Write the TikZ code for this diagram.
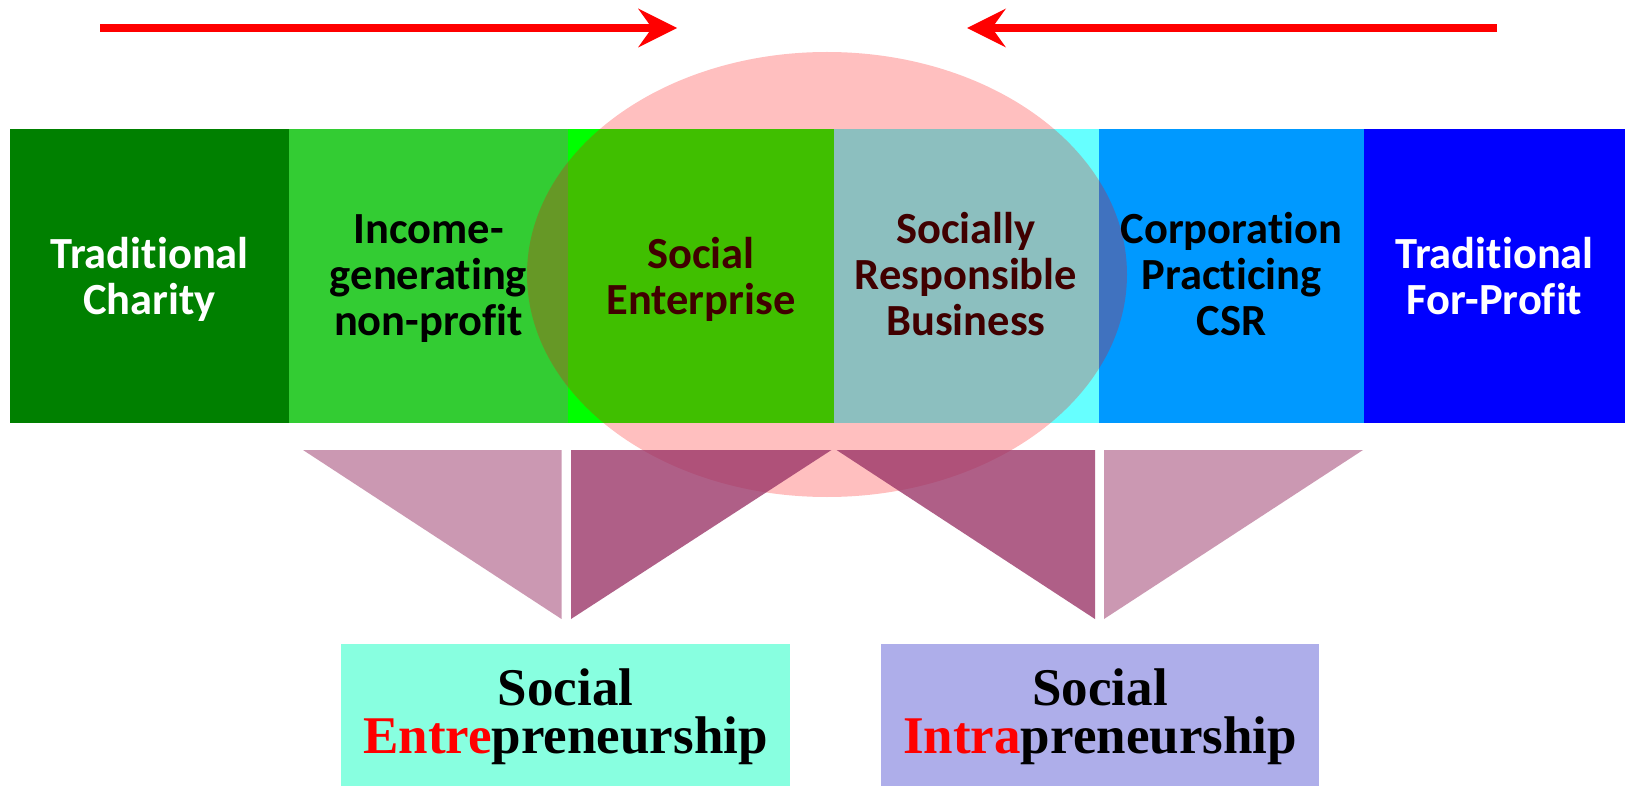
\documentclass[tikz,border=0pt]{standalone}
\usepackage{fontspec}
\setmainfont{Liberation Serif}
\newfontfamily\colfont[Ligatures=NoCommon]{Carlito}
\usetikzlibrary{arrows.meta}
\definecolor{colA}{HTML}{008000}
\definecolor{colB}{HTML}{33CC33}
\definecolor{colC}{HTML}{00FF00}
\definecolor{colD}{HTML}{66FFFF}
\definecolor{colE}{HTML}{0099FF}
\definecolor{colF}{HTML}{0000FF}
\definecolor{trimauve}{HTML}{993366}
\definecolor{boxaqua}{HTML}{88FFE0}
\definecolor{boxlav}{HTML}{AEAEEA}
\definecolor{arrowred}{HTML}{FF0000}
\newcommand\colstrut{\rule{0pt}{36pt}}
\newcommand\boxstrut{\rule{0pt}{45pt}}
\begin{document}
\begin{tikzpicture}[x=1pt,y=-1pt,
  coltext/.style={anchor=north, inner sep=0pt, align=center,
    font=\colfont\bfseries\fontsize{44.5}{46}\selectfont},
  boxtext/.style={anchor=north, inner sep=0pt, align=center,
    font=\bfseries\fontsize{53}{48}\selectfont},
  bigarrow/.style={draw=arrowred, line width=8pt,
    -{Stealth[length=39pt,width=39pt,inset=14pt,line width=0pt]}},
  lighttri/.style={fill=trimauve, fill opacity=0.5},
  darktri/.style={fill=trimauve, fill opacity=0.78},
]
\useasboundingbox (0,0) rectangle (1625,786);
\fill[white] (0,0) rectangle (1625,786);

% arrows
\coordinate (a1s) at (100,28);
\coordinate (a1e) at (677,28);
\coordinate (a2s) at (1497,28);
\coordinate (a2e) at (967,28);
\draw[bigarrow] (a1s) -- (a1e);
\draw[bigarrow] (a2s) -- (a2e);

% bar
\fill[colA] (10,129) rectangle (289,422.7);
\fill[colB] (289,129) rectangle (568,422.7);
\fill[colC] (568,129) rectangle (834,422.7);
\fill[colD] (834,129) rectangle (1099,422.7);
\fill[colE] (1099,129) rectangle (1364,422.7);
\fill[colF] (1364,129) rectangle (1625,422.7);

% column texts
\node[coltext, text=white] (tc) at (149.5,232) {\colstrut Traditional\\Charity};
\node[coltext, text=black] (ig) at (428.5,207) {\colstrut Income-\\generating\\non-profit};
\node[coltext, text=black] (se) at (701,232) {\colstrut Social\\Enterprise};
\node[coltext, text=black] (srb) at (966,207) {\colstrut Socially\\Responsible\\Business};
\node[coltext, text=black] (csr) at (1231.5,207) {\colstrut Corporation\\Practicing\\CSR};
\node[coltext, text=white] (tfp) at (1494.5,232) {\colstrut Traditional\\For-Profit};

% ellipse
\fill[red, fill opacity=0.25] (827,274.5) ellipse [x radius=300pt, y radius=222.5pt];

% triangles
\fill[lighttri] (303,450) -- (561.5,450) -- (561.5,619) -- cycle;
\fill[darktri] (571,450) -- (831.5,450) -- (571,619) -- cycle;
\fill[darktri] (836.5,450) -- (1095,450) -- (1095,619) -- cycle;
\fill[lighttri] (1104,450) -- (1363,450) -- (1104,619) -- cycle;

% bottom boxes
\fill[boxaqua] (341,644) rectangle (790,786);
\fill[boxlav] (881,644) rectangle (1319,786);
\node[boxtext] (sent) at (565.5,660) {\boxstrut Social\\\textcolor{arrowred}{Entre}preneurship};
\node[boxtext] (sint) at (1100,660) {\boxstrut Social\\\textcolor{arrowred}{Intra}preneurship};
\end{tikzpicture}
\end{document}
